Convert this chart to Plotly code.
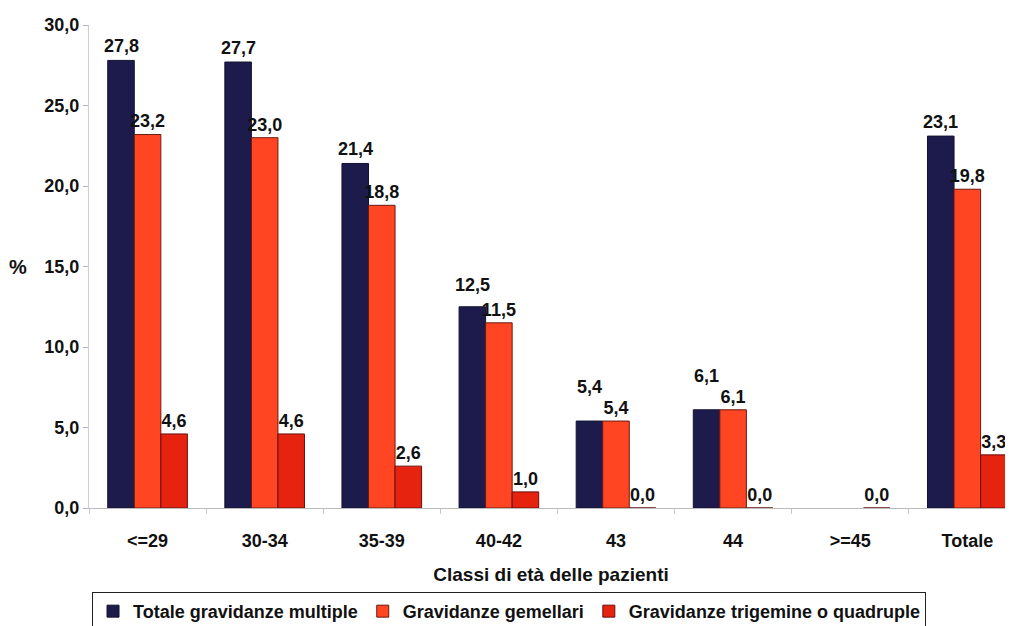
import plotly.graph_objects as go

categories = ["<=29", "30-34", "35-39", "40-42", "43", "44", ">=45", "Totale"]
totale_multiple = [27.8, 27.7, 21.4, 12.5, 5.4, 6.1, None, 23.1]
gemellari = [23.2, 23.0, 18.8, 11.5, 5.4, 6.1, None, 19.8]
trigemine = [4.6, 4.6, 2.6, 1.0, 0.0, 0.0, 0.0, 3.3]
series_names = ["Totale gravidanze multiple", "Gravidanze gemellari", "Gravidanze trigemine o quadruple"]
y_ticks = [0, 5, 10, 15, 20, 25, 30]

# extra lift (px) of first-series labels that were moved up in the original to avoid overlap
first_label_lift = {"43": 20, "44": 20, "40-42": 8}

fill_colors = ["#1d1b4c", "#ff4522", "#e5230f"]
line_colors = ["#141230", "#6a1a10", "#6a1010"]

FONT = "Liberation Sans, Arial, sans-serif"
BARGAP = 0.32

fig = go.Figure()
for k, (name, vals, fc, lc) in enumerate(zip(series_names, [totale_multiple, gemellari, trigemine], fill_colors, line_colors)):
    fig.add_trace(go.Bar(
        x=categories, y=vals, name=name,
        marker=dict(color=fc, line=dict(color=lc, width=1)),
        texttemplate="%{y:.1f}", textposition="outside" if k > 0 else "none",
        textfont=dict(family=FONT, size=18, color="#111111", weight="bold"),
        cliponaxis=False,
    ))

# labels for first series as annotations (allow individual lift)
bar_w = (1 - BARGAP) / 3
annotations = []
for i, (cat, v) in enumerate(zip(categories, totale_multiple)):
    if v is None:
        continue
    annotations.append(dict(
        x=i - bar_w, y=v, xref="x", yref="y", text=f"{v:.1f}".replace(".", ","),
        showarrow=False, yanchor="bottom", xanchor="center",
        yshift=2 + first_label_lift.get(cat, 0),
        font=dict(family=FONT, size=18, color="#111111", weight="bold"),
    ))
annotations.append(dict(
    text="%", x=-0.077, y=15, xref="paper", yref="y",
    showarrow=False, font=dict(family=FONT, size=20, color="#111111", weight="bold"),
    xanchor="center", yanchor="middle",
))

fig.update_layout(
    width=1013, height=626,
    margin=dict(l=81, r=8, t=17, b=126),
    paper_bgcolor="white", plot_bgcolor="white",
    separators=",.",
    barmode="group", bargap=BARGAP, bargroupgap=0,
    uniformtext=dict(minsize=18, mode="show"),
    font=dict(family=FONT, size=15, color="#111111"),
    showlegend=True,
    legend=dict(
        orientation="h", x=0.4946, xref="container", xanchor="center",
        y=0.036, yref="container", yanchor="middle",
        bordercolor="#222222", borderwidth=1, bgcolor="white",
        font=dict(family=FONT, size=18, color="#111111", weight="bold"),
        itemwidth=30, traceorder="normal",
    ),
    xaxis=dict(
        range=[-0.5, 7.39],
        tickfont=dict(family=FONT, size=18, color="#111111", weight="bold"),
        ticklabelstandoff=16,
        showline=True, linecolor="#bbbbbb", linewidth=1,
        ticks="outside", tickson="boundaries", ticklen=5, tickcolor="#c8c8d0",
        showgrid=False,
        title=dict(text="Classi di età delle pazienti", font=dict(family=FONT, size=19, color="#111111", weight="bold"), standoff=18),
    ),
    yaxis=dict(
        range=[0, 30], tickvals=y_ticks,
        tickformat=".1f",
        tickfont=dict(family=FONT, size=18, color="#111111", weight="bold"),
        showline=True, linecolor="#d8c8d8", linewidth=1,
        ticks="outside", ticklen=5, tickcolor="#b0b0c8",
        showgrid=False, zeroline=False,
    ),
    annotations=annotations,
)
fig.update_xaxes(automargin=False)
fig.update_yaxes(automargin=False)

fig.write_html("out.html")
